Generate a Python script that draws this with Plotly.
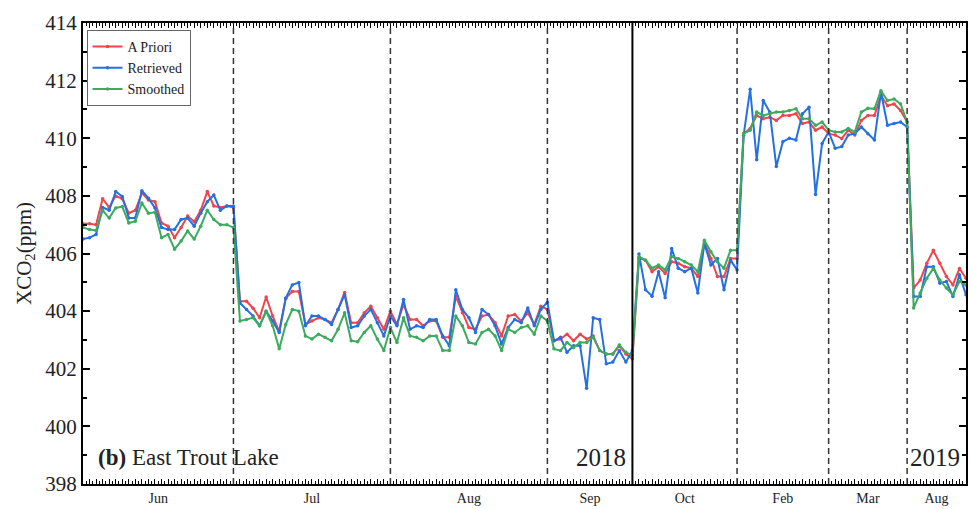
import plotly.graph_objects as go
import numpy as np

months = ["Jun", "Jul", "Aug", "Sep", "Oct", "Feb", "Mar", "Aug"]
month_counts = [24, 24, 24, 13, 16, 14, 12, 9]
year_break_after = "Sep"  # solid line between 2018 and 2019

apriori = [
    # Jun
    407.03, 407.03, 407.0, 407.9, 407.6, 408.0, 407.9, 407.4, 407.5, 408.1, 407.86, 407.8,
    407.06, 406.95, 406.55, 406.9, 407.3, 407.1, 407.5, 408.15, 407.65, 407.6, 407.65, 407.6,
    # Jul
    404.34, 404.34, 404.1, 403.77, 404.49, 403.83, 403.3, 404.45, 404.68, 404.68, 403.54, 403.66,
    403.77, 403.71, 403.6, 404.06, 404.65, 403.6, 403.6, 403.94, 404.17, 403.77, 403.37, 404.0,
    # Aug
    403.54, 404.23, 403.71, 403.71, 403.49, 403.66, 403.66, 403.09, 403.09, 404.51, 403.94, 403.43,
    403.37, 403.83, 403.88, 403.6, 403.14, 403.83, 403.88, 403.66, 403.94, 403.54, 404.17, 404.06,
    # Sep
    402.97, 403.03, 403.2, 402.97, 403.2, 403.03, 403.14, 402.63, 402.51, 402.51, 402.8, 402.51, 402.34,
    # Oct
    405.83, 405.77, 405.37, 405.54, 405.31, 405.71, 405.66, 405.54, 405.49, 405.2, 406.4, 405.83,
    405.2, 405.2, 405.83, 405.83,
    # Feb
    410.16, 410.34, 410.79, 410.68, 410.73, 410.62, 410.79, 410.79, 410.85, 410.51, 410.56, 410.28,
    410.39, 410.16,
    # Mar
    410.11, 409.99, 410.28, 410.11, 410.62, 410.79, 410.79, 411.48, 411.13, 411.19, 410.96, 410.56,
    # Aug 2019
    404.8, 405.08, 405.66, 406.11, 405.66, 405.2, 404.91, 405.48, 405.14,
]

retrieved = [
    # Jun
    406.5, 406.55, 406.66, 407.6, 407.5, 408.15, 407.98, 407.23, 407.23, 408.18, 407.92, 407.58,
    406.9, 406.83, 406.83, 407.18, 407.23, 406.95, 407.4, 407.8, 408.03, 407.5, 407.65, 407.65,
    # Jul
    404.28, 404.06, 403.83, 403.49, 404.0, 403.66, 403.26, 404.45, 404.91, 404.99, 403.49, 403.83,
    403.83, 403.71, 403.54, 404.06, 404.57, 403.43, 403.49, 403.83, 404.06, 403.6, 403.14, 403.83,
    # Aug
    403.49, 404.4, 403.37, 403.49, 403.43, 403.71, 403.71, 403.14, 402.8, 404.74, 404.06, 403.77,
    403.26, 404.06, 403.88, 403.49, 402.86, 403.43, 403.71, 403.6, 404.11, 403.49, 404.06, 404.31,
    # Sep
    402.97, 403.09, 402.57, 402.8, 402.8, 401.32, 403.77, 403.71, 402.17, 402.23, 402.63, 402.23, 402.63,
    # Oct
    405.98, 404.74, 404.52, 405.37, 404.46, 406.17, 405.49, 405.37, 405.49, 404.63, 406.34, 405.6,
    405.83, 404.74, 405.77, 405.43,
    # Feb
    410.1, 411.7, 409.25, 411.31, 410.91, 409.02, 409.88, 410.0, 409.94, 410.85, 411.08, 408.05,
    409.82, 410.22,
    # Mar
    409.65, 409.71, 410.11, 410.16, 410.39, 410.16, 409.94, 411.59, 410.45, 410.51, 410.56, 410.39,
    # Aug 2019
    404.51, 404.51, 405.54, 405.54, 404.97, 405.03, 404.51, 405.26, 404.57,
]

smoothed = [
    # Jun
    406.9, 406.83, 406.8, 407.5, 407.23, 407.58, 407.63, 407.06, 407.12, 407.75, 407.4, 407.43,
    406.55, 406.66, 406.15, 406.43, 406.78, 406.5, 406.95, 407.5, 407.18, 407.0, 407.0, 406.9,
    # Jul
    403.66, 403.71, 403.77, 403.49, 404.0, 403.49, 402.69, 403.54, 404.06, 404.0, 403.14, 403.03,
    403.2, 403.09, 402.97, 403.37, 403.94, 402.97, 402.94, 403.26, 403.49, 403.03, 402.63, 403.43,
    # Aug
    402.91, 403.77, 403.14, 403.09, 402.97, 403.14, 403.14, 402.63, 402.63, 403.83, 403.49, 402.91,
    402.86, 403.26, 403.37, 403.14, 402.63, 403.37, 403.26, 403.43, 403.49, 403.2, 403.83, 403.66,
    # Sep
    402.69, 402.63, 402.91, 402.74, 402.91, 402.91, 403.09, 402.63, 402.51, 402.51, 402.82, 402.57, 402.46,
    # Oct
    405.89, 405.77, 405.49, 405.6, 405.43, 405.89, 405.83, 405.71, 405.6, 405.37, 406.46, 406.06,
    405.71, 405.49, 406.11, 406.11,
    # Feb
    410.16, 410.28, 410.91, 410.79, 410.85, 410.91, 410.91, 410.96, 411.02, 410.68, 410.68, 410.45,
    410.56, 410.28,
    # Mar
    410.22, 410.22, 410.34, 410.22, 410.91, 411.04, 411.02, 411.65, 411.31, 411.36, 411.19, 410.56,
    # Aug 2019
    404.11, 404.63, 405.14, 405.48, 405.08, 404.8, 404.57, 405.03, 404.91,
]

y_ticks = [398, 400, 402, 404, 406, 408, 410, 412, 414]

# ---------------------------------------------------------------
n = len(apriori)
x = list(range(n))
ends = [int(v) for v in np.cumsum(month_counts) - 1]   # last index of each month
starts = [0] + ends[:-1]
mids = [(s + e) / 2 for s, e in zip(starts, ends)]
boundaries = ends[:-1]
solid_idx = months.index(year_break_after)

FONT = "Liberation Serif"
RED, BLUE, GREEN = "#F0444C", "#2470E3", "#3DAA5E"

fig = go.Figure()
for name, vals, col in [("A Priori", apriori, RED), ("Retrieved", retrieved, BLUE),
                        ("Smoothed", smoothed, GREEN)]:
    fig.add_trace(go.Scatter(x=x, y=vals, name=name, mode="lines+markers",
                             line=dict(color=col, width=2),
                             marker=dict(color=col, size=3.5)))

# trace registering the tick-only overlay axis (no visible data)
fig.add_trace(go.Scatter(x=[0], y=[None], xaxis="x2", yaxis="y", mode="lines",
                         showlegend=False, hoverinfo="skip"))

for i, b in enumerate(boundaries):
    if i == solid_idx:
        fig.add_shape(type="line", x0=b, x1=b, y0=0, y1=1, xref="x", yref="paper",
                      line=dict(color="black", width=2))
    else:
        fig.add_shape(type="line", x0=b, x1=b, y0=0, y1=1, xref="x", yref="paper",
                      line=dict(color="#333333", width=1.5, dash="6px,4px"))

fig.add_annotation(x=0.015, y=0.058, xref="paper", yref="paper",
                   text="<b>(b)</b> East Trout Lake", showarrow=False,
                   xanchor="left", yanchor="middle",
                   font=dict(family=FONT, size=23, color="#222"))
fig.add_annotation(x=ends[solid_idx], y=0.058, xref="x", yref="paper", xshift=-4,
                   text="2018", showarrow=False, xanchor="right", yanchor="middle",
                   font=dict(family=FONT, size=25, color="#222"))
fig.add_annotation(x=ends[-2], y=0.058, xref="x", yref="paper", xshift=1,
                   text="2019", showarrow=False, xanchor="left", yanchor="middle",
                   font=dict(family=FONT, size=25, color="#222"))

fig.update_layout(
    width=971, height=509,
    margin=dict(l=83, r=3, t=23, b=18),
    paper_bgcolor="white", plot_bgcolor="white",
    font=dict(family=FONT, color="#222"),
    showlegend=True,
    legend=dict(x=0.004, y=0.985, xanchor="left", yanchor="top",
                bgcolor="white", bordercolor="#666", borderwidth=1,
                font=dict(family=FONT, size=14, color="#222"),
                itemwidth=30, tracegroupgap=0),
    xaxis=dict(range=[0, n - 1], showgrid=False, zeroline=False,
               showline=True, linecolor="black", linewidth=2, mirror=True,
               tickmode="array", tickvals=mids, ticktext=months, ticks="",
               tickfont=dict(family=FONT, size=14, color="#222")),
    xaxis2=dict(range=[0, n - 1], overlaying="x", anchor="y", side="bottom",
                showgrid=False, zeroline=False, showline=False, showticklabels=False,
                tick0=0, dtick=1, ticks="inside", ticklen=5, tickwidth=1.2,
                tickcolor="black", mirror="ticks",
                minor=dict(dtick=0.5, tick0=0, ticks="inside", ticklen=3,
                           tickwidth=1, tickcolor="black", showgrid=False)),
    yaxis=dict(range=[398, 414], showgrid=False, zeroline=False,
               showline=True, linecolor="black", linewidth=2, mirror="ticks",
               tickmode="array", tickvals=y_ticks, ticks="inside", ticklen=7,
               tickwidth=1.5, tickcolor="black",
               minor=dict(dtick=1, tick0=398, ticks="inside", ticklen=4,
                          tickwidth=1.5, tickcolor="black", showgrid=False),
               tickfont=dict(family=FONT, size=21, color="#222"),
               title=dict(text="XCO<sub>2</sub>(ppm)", standoff=8,
                          font=dict(family=FONT, size=21, color="#222"))),
)

fig.write_html("out.html")
